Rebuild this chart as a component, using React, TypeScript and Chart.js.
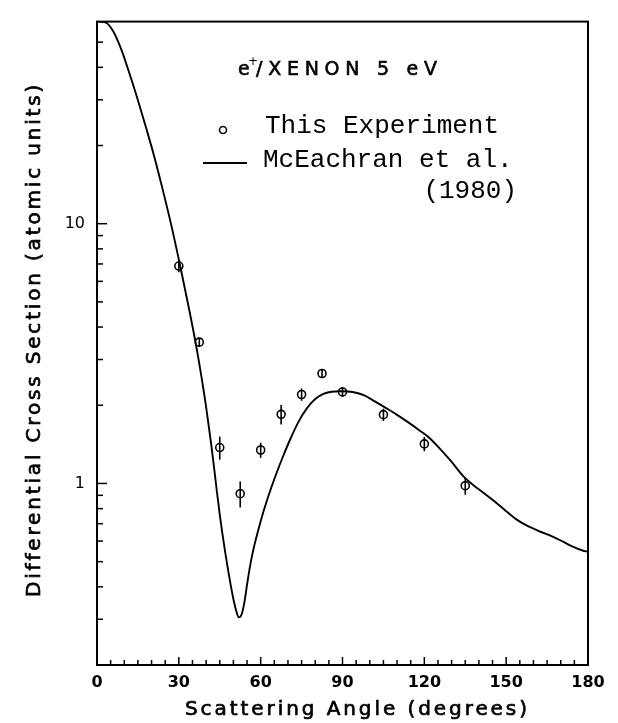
import React, { useEffect, useRef } from 'react';
import { Chart, registerables } from 'chart.js';

Chart.register(...registerables);

// Theory curve (McEachran et al. 1980)
const curveAngles = [0, 3, 6, 9, 12, 15, 18, 21, 24, 27, 30, 33, 36, 38, 40, 42, 43, 44, 45, 46, 47, 48, 49, 50, 51, 52, 53, 54, 55, 56, 57, 58, 60, 62, 64, 66, 68, 71, 74, 77, 80, 83, 86, 89, 92, 95, 98, 102, 106, 110, 114, 118, 122, 126, 130, 134, 138, 142, 146, 150, 154, 158, 162, 166, 170, 174, 178, 180];
const curveValues = [60, 59.6, 55.0, 46.6, 37.6, 29.9, 23.4, 18.11, 13.65, 10.12, 7.28, 5.13, 3.55, 2.69, 1.972, 1.38, 1.13, 0.923, 0.759, 0.638, 0.543, 0.468, 0.407, 0.359, 0.324, 0.305, 0.313, 0.347, 0.407, 0.473, 0.537, 0.596, 0.716, 0.841, 0.971, 1.109, 1.256, 1.493, 1.738, 1.95, 2.113, 2.213, 2.254, 2.265, 2.259, 2.234, 2.183, 2.065, 1.95, 1.837, 1.722, 1.607, 1.493, 1.349, 1.211, 1.075, 0.985, 0.915, 0.849, 0.782, 0.724, 0.685, 0.656, 0.631, 0.603, 0.574, 0.552, 0.546];

// Experimental points (This Experiment)
const expAngles = [30, 37.5, 45, 52.5, 60, 67.5, 75, 82.5, 90, 105, 120, 135];
const expValues = [6.87, 3.5, 1.375, 0.913, 1.345, 1.845, 2.2, 2.65, 2.25, 1.84, 1.42, 0.98];
const expErrors = [0.36, 0.14, 0.14, 0.105, 0.09, 0.16, 0.12, 0.1, 0.1, 0.1, 0.09, 0.075];

// Axis labels
const xTickLabels = [0, 30, 60, 90, 120, 150, 180];
const yTickLabels = [1, 10];

const titleText = 'e/XENON 5 eV';
const legendExp = 'This Experiment';
const legendTheory = 'McEachran et al.';
const legendYear = '(1980)';
const xTitle = 'Scattering Angle (degrees)';
const yTitle = 'Differential Cross Section (atomic units)';

function spacedText(ctx: CanvasRenderingContext2D, text: string, x: number, y: number, target: number, heavy = 0) {
  (ctx as any).letterSpacing = '0px';
  const w = ctx.measureText(text).width;
  const sp = text.length > 1 ? (target - w) / (text.length - 1) : 0;
  (ctx as any).letterSpacing = sp + 'px';
  ctx.textAlign = 'left';
  ctx.fillText(text, x, y);
  if (heavy > 0) {
    ctx.lineWidth = heavy;
    ctx.strokeText(text, x, y);
  }
  (ctx as any).letterSpacing = '0px';
}

const decorPlugin = {
  id: 'decor',
  afterDatasetsDraw(chart: any) {
    const { ctx, scales } = chart;
    const x = scales.x, y = scales.y;
    ctx.save();
    ctx.strokeStyle = '#000';
    ctx.lineWidth = 1.6;
    expAngles.forEach((a, i) => {
      const px = x.getPixelForValue(a);
      const top = y.getPixelForValue(expValues[i] + expErrors[i]);
      const bot = y.getPixelForValue(expValues[i] - expErrors[i]);
      ctx.beginPath();
      ctx.moveTo(px, top);
      ctx.lineTo(px, bot);
      ctx.stroke();
    });
    ctx.restore();
  },
  afterDraw(chart: any) {
    const { ctx, chartArea: a, scales } = chart;
    const x = scales.x, y = scales.y;
    ctx.save();
    ctx.strokeStyle = '#000';
    ctx.fillStyle = '#000';
    // frame
    ctx.lineWidth = 2;
    ctx.strokeRect(a.left, a.top, a.right - a.left, a.bottom - a.top);
    // x ticks (inward)
    ctx.lineWidth = 1.5;
    for (let v = 5; v < 180; v += 5) {
      const px = x.getPixelForValue(v);
      const len = v % 30 === 0 ? 8 : 5;
      ctx.beginPath();
      ctx.moveTo(px, a.bottom);
      ctx.lineTo(px, a.bottom - len);
      ctx.stroke();
    }
    // y ticks (inward)
    const yt: number[] = [];
    for (let k = 2; k <= 9; k++) yt.push(k / 10);
    for (let k = 1; k <= 9; k++) yt.push(k);
    for (let k = 10; k <= 60; k += 10) yt.push(k);
    yt.forEach((v) => {
      const py = y.getPixelForValue(v);
      if (py < a.top + 1 || py > a.bottom - 1) return;
      const len = v === 1 || v === 10 ? 10 : 6;
      ctx.beginPath();
      ctx.moveTo(a.left, py);
      ctx.lineTo(a.left + len, py);
      ctx.stroke();
    });

    // axis titles
    ctx.textBaseline = 'alphabetic';
    ctx.font = '20px "DejaVu Sans"';
    spacedText(ctx, xTitle, 185, 715, 342, 0.7);
    ctx.save();
    ctx.translate(40, 597);
    ctx.rotate(-Math.PI / 2);
    ctx.font = '20px "DejaVu Sans"';
    spacedText(ctx, yTitle, 0, 0, 512, 0.7);
    ctx.restore();

    // annotation title e+/XENON 5 eV
    ctx.font = '19px "DejaVu Sans"';
    ctx.textAlign = 'left';
    ctx.lineWidth = 0.6;
    ctx.fillText(titleText.slice(0, 1), 238, 75);
    ctx.strokeText(titleText.slice(0, 1), 238, 75);
    ctx.font = '12px "DejaVu Sans"';
    ctx.fillText('+', 248, 65);
    ctx.font = '19px "DejaVu Sans"';
    spacedText(ctx, titleText.slice(1), 256, 75, 181, 0.6);

    // legend
    ctx.lineWidth = 1.5;
    ctx.beginPath();
    ctx.arc(223, 130, 3.5, 0, Math.PI * 2);
    ctx.stroke();
    ctx.lineWidth = 2;
    ctx.beginPath();
    ctx.moveTo(203, 163);
    ctx.lineTo(247, 163);
    ctx.stroke();
    ctx.font = '26px "Liberation Mono"';
    ctx.textAlign = 'left';
    ctx.fillText(legendExp, 265, 133);
    ctx.fillText(legendTheory, 263, 167);
    ctx.textAlign = 'right';
    ctx.fillText(legendYear, 517, 198);
    ctx.restore();
  },
};

export default function App() {
  const ref = useRef<HTMLCanvasElement | null>(null);
  useEffect(() => {
    document.body.style.margin = '0';
    const canvas = ref.current;
    if (!canvas) return;
    const chart = new Chart(canvas, {
      type: 'scatter',
      data: {
        datasets: [
          {
            label: 'McEachran et al. (1980)',
            data: curveAngles.map((a, i) => ({ x: a, y: curveValues[i] })),
            showLine: true,
            borderColor: '#000',
            borderWidth: 1.9,
            pointRadius: 0,
            cubicInterpolationMode: 'monotone',
            fill: false,
          },
          {
            label: 'This Experiment',
            data: expAngles.map((a, i) => ({ x: a, y: expValues[i] })),
            showLine: false,
            pointStyle: 'circle',
            pointRadius: 4,
            borderColor: '#000',
            borderWidth: 1.6,
            backgroundColor: 'rgba(0,0,0,0)',
          },
        ],
      },
      options: {
        responsive: false,
        animation: false,
        layout: { padding: { top: 15, right: 30, left: 0, bottom: 0 } },
        plugins: { legend: { display: false }, tooltip: { enabled: false }, title: { display: false } },
        scales: {
          x: {
            type: 'linear',
            min: 0,
            max: 180,
            grid: { display: false, drawTicks: false },
            border: { display: false },
            ticks: {
              stepSize: 30,
              padding: 8,
              color: '#000',
              font: { family: 'DejaVu Sans', size: 16, weight: 'bold' },
            },
            afterBuildTicks: (s: any) => {
              s.ticks = xTickLabels.map((v) => ({ value: v }));
            },
            afterFit: (s: any) => {
              s.height = 58;
            },
          },
          y: {
            type: 'logarithmic',
            min: 0.2,
            max: 60,
            grid: { display: false, drawTicks: false },
            border: { display: false },
            ticks: {
              autoSkip: false,
              padding: 12,
              color: '#000',
              font: { family: 'DejaVu Sans', size: 16 },
              callback: (v: any) => String(v),
            },
            afterBuildTicks: (s: any) => {
              s.ticks = yTickLabels.map((v) => ({ value: v }));
            },
            afterFit: (s: any) => {
              s.width = 97;
            },
          },
        },
      },
      plugins: [decorPlugin],
    } as any);
    return () => chart.destroy();
  }, []);
  return (
    <div style={{ width: 618, height: 723 }}>
      <canvas ref={ref} width={618} height={723} />
    </div>
  );
}
